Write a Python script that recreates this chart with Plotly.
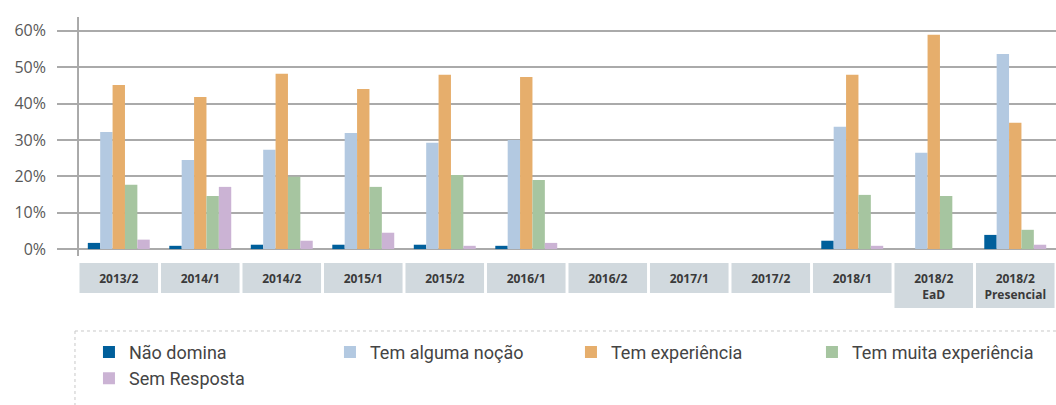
import plotly.graph_objects as go

# Periods (x categories)
periodos = ["2013/2", "2014/1", "2014/2", "2015/1", "2015/2", "2016/1",
            "2016/2", "2017/1", "2017/2", "2018/1", "2018/2<br>EaD", "2018/2<br>Presencial"]

# Share of answers per period (%); None = no survey
nao_domina        = [1.7, 0.9, 1.2, 1.2, 1.2, 0.9, None, None, None, 2.3, 0.0, 3.9]
tem_alguma_nocao  = [32.2, 24.5, 27.3, 31.9, 29.2, 30.0, None, None, None, 33.6, 26.5, 53.6]
tem_experiencia   = [45.1, 41.8, 48.2, 44.0, 47.9, 47.3, None, None, None, 47.9, 58.9, 34.7]
tem_muita_exp     = [17.7, 14.6, 19.9, 17.1, 20.4, 19.0, None, None, None, 14.9, 14.6, 5.3]
sem_resposta      = [2.6, 17.1, 2.3, 4.5, 0.9, 1.7, None, None, None, 0.9, 0.0, 1.2]

y_ticks = [0, 10, 20, 30, 40, 50, 60]

series = [
    ("Não domina", nao_domina, "#005f9b"),
    ("Tem alguma noção", tem_alguma_nocao, "#b3c9e1"),
    ("Tem experiência", tem_experiencia, "#e6ae6c"),
    ("Tem muita experiência", tem_muita_exp, "#a6c5a0"),
    ("Sem Resposta", sem_resposta, "#cbb3d4"),
]

fig = go.Figure()
for nome, valores, cor in series:
    fig.add_trace(go.Bar(x=list(range(len(periodos))), y=valores, name=nome,
                         marker=dict(color=cor, line=dict(width=0))))

# Grey boxes behind the period labels
for i, p in enumerate(periodos):
    fundo = -0.2176 if "<br>" in p else -0.1548
    fig.add_shape(type="rect", xref="x", yref="paper",
                  x0=i - 0.482, x1=i + 0.482, y0=fundo, y1=-0.0293,
                  fillcolor="#d1d9de", line=dict(width=0), layer="below")

# Vertical axis line
fig.add_shape(type="line", xref="x", yref="paper", x0=-0.5, x1=-0.5, y0=0, y1=1,
              line=dict(color="#a9a9a9", width=2))

# Dotted frame around the legend
fig.add_shape(type="line", xref="paper", yref="paper", x0=0.018, x1=1, y0=-0.3138, y1=-0.3138,
              line=dict(color="#c8c8c8", width=1, dash="dot"))
fig.add_shape(type="line", xref="paper", yref="paper", x0=0.018, x1=0.018, y0=-0.3138, y1=-0.65,
              line=dict(color="#c8c8c8", width=1, dash="dot"))

fig.update_xaxes(range=[-0.758, 11.5], tickvals=list(range(len(periodos))),
                 ticktext=[f"<b>{p}</b>" for p in periodos], ticks="", showgrid=False,
                 showline=False, zeroline=False, ticklabelstandoff=14, automargin=False,
                 tickfont=dict(family="Open Sans", size=12, color="#3a3a3a"))

fig.update_yaxes(range=[-1.9, 63.8], tickvals=y_ticks, ticktext=[f"{v}%" for v in y_ticks],
                 showgrid=True, gridcolor="#aaaaaa", gridwidth=1.5, zeroline=False,
                 showline=False, ticks="", ticklabelstandoff=10, automargin=False,
                 tickfont=dict(family="Open Sans", size=16, color="#585858"))

fig.update_layout(width=1056, height=405, margin=dict(l=57, r=0, t=17, b=149),
                  plot_bgcolor="white", paper_bgcolor="white",
                  barmode="group", bargap=0.24, bargroupgap=0,
                  showlegend=True,
                  legend=dict(orientation="h", x=0.032, xanchor="left", y=-0.325, yanchor="top",
                              entrywidth=196, entrywidthmode="pixels", traceorder="normal",
                              font=dict(family="Roboto", size=18, color="#444444"),
                              bgcolor="rgba(0,0,0,0)"))

# Page body has a default 8px margin; remove it so the figure fills the window
fig.write_html("out.html", config={"displayModeBar": False},
               post_script="document.body.style.margin='0px';")
